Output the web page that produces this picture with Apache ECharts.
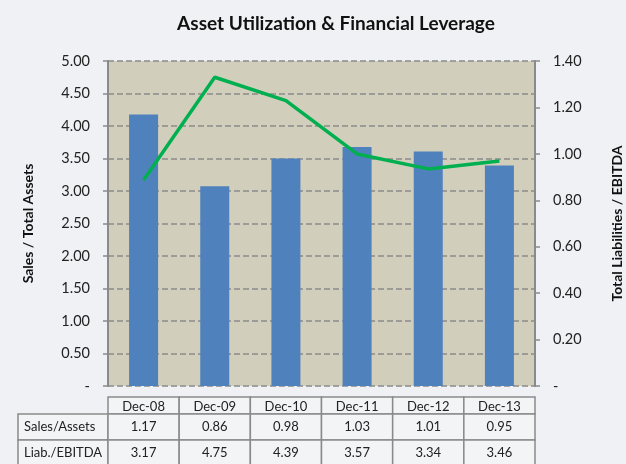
<!DOCTYPE html>
<html>
  <head>
    <meta charset="utf-8" />
    <title>Asset Utilization & Financial Leverage</title>
    <script src="https://cdn.jsdelivr.net/npm/echarts@6/dist/echarts.min.js"></script>
    <style>
      html, body { margin: 0; padding: 0; background: #eff1f4; }
    </style>
  </head>

  <body>
    <div id="main" style="width: 626px; height: 464px"></div>

    <script>
      var categories = ["Dec-08", "Dec-09", "Dec-10", "Dec-11", "Dec-12", "Dec-13"];
      var salesAssets = [1.17, 0.86, 0.98, 1.03, 1.01, 0.95];
      var liabEbitda = [3.17, 4.75, 4.39, 3.57, 3.34, 3.46];
      var rowLabels = ["Sales/Assets", "Liab./EBITDA"];

      var font = "Lato, 'Open Sans', sans-serif";
      var gridLeft = 108;
      var gridRight = 535;
      var colW = (gridRight - gridLeft) / categories.length;

      // table below the plot
      function buildTable() {
        var els = [];
        var cellStyle = { fill: "#f3f4f6", stroke: "#8a8a8a", lineWidth: 1.5 };
        var rows = [
          { y: 397, h: 17 },
          { y: 414, h: 26 },
          { y: 440, h: 26 },
        ];
        var textStyle = function (t, x, y, align) {
          return {
            type: "text",
            style: {
              text: t,
              x: x,
              y: y,
              align: align || "center",
              verticalAlign: "middle",
              font: "13px " + font,
              fill: "#222",
            },
          };
        };
        categories.forEach(function (c, i) {
          var x = gridLeft + i * colW;
          els.push({ type: "rect", shape: { x: x, y: rows[0].y, width: colW, height: rows[0].h }, style: cellStyle });
          els.push(textStyle(c, x + colW / 2, rows[0].y + rows[0].h / 2 + 1));
        });
        [salesAssets, liabEbitda].forEach(function (arr, r) {
          var row = rows[r + 1];
          els.push({ type: "rect", shape: { x: 18, y: row.y, width: gridLeft - 18, height: row.h }, style: cellStyle });
          els.push(textStyle(rowLabels[r], 24, row.y + row.h / 2, "left"));
          arr.forEach(function (v, i) {
            var x = gridLeft + i * colW;
            els.push({ type: "rect", shape: { x: x, y: row.y, width: colW, height: row.h }, style: cellStyle });
            els.push(textStyle(v.toFixed(2), x + colW / 2, row.y + row.h / 2));
          });
        });
        return els;
      }

      var option = {
        backgroundColor: "#eff1f4",
        animation: false,
        title: {
          text: "Asset Utilization & Financial Leverage",
          left: 331,
          textAlign: "center",
          top: 9,
          textStyle: { fontFamily: font, fontSize: 19, fontWeight: "bold", color: "#111" },
        },
        grid: {
          left: gridLeft,
          right: 626 - gridRight,
          top: 61,
          bottom: 464 - 386,
          outerBoundsMode: "none",
          containLabel: false,
          show: true,
          backgroundColor: "#d1cebb",
          borderWidth: 0,
        },
        xAxis: {
          type: "category",
          data: categories,
          axisLine: { show: false },
          axisTick: { show: false },
          axisLabel: { show: false },
        },
        yAxis: [
          {
            type: "value",
            position: "left",
            min: 0,
            max: 5,
            interval: 0.5,
            name: "Sales / Total Assets",
            nameLocation: "middle",
            nameRotate: 90,
            nameGap: 73,
            nameMoveOverlap: false,
            nameTextStyle: { fontFamily: font, fontSize: 14, fontWeight: "bold", color: "#111" },
            axisLine: { show: true, lineStyle: { color: "#8a8a8a", width: 2 } },
            axisTick: { show: true, length: 5, lineStyle: { color: "#8a8a8a", width: 1.5 } },
            axisLabel: {
              margin: 18,
              fontFamily: font,
              fontSize: 14.5,
              color: "#222",
              formatter: function (v) { return v === 0 ? "-" : v.toFixed(2); },
            },
            splitLine: { show: true, lineStyle: { color: "#8a8a8a", width: 1.5, type: [6, 3] } },
          },
          {
            type: "value",
            position: "right",
            min: 0,
            max: 1.4,
            interval: 0.2,
            name: "Total Liabilities / EBITDA",
            nameLocation: "middle",
            nameRotate: 90,
            nameGap: 75,
            nameMoveOverlap: false,
            nameTextStyle: { fontFamily: font, fontSize: 14, fontWeight: "bold", color: "#111" },
            axisLine: { show: true, lineStyle: { color: "#8a8a8a", width: 2 } },
            axisTick: { show: true, length: 5, lineStyle: { color: "#8a8a8a", width: 1.5 } },
            axisLabel: {
              margin: 18,
              fontFamily: font,
              fontSize: 14.5,
              color: "#222",
              formatter: function (v) { return v === 0 ? "-" : v.toFixed(2); },
            },
            splitLine: { show: false },
          },
        ],
        series: [
          {
            name: "Sales/Assets",
            type: "bar",
            yAxisIndex: 1,
            data: salesAssets,
            barWidth: 29,
            itemStyle: { color: "#4f81bd" },
            z: 2,
          },
          {
            name: "Liab./EBITDA",
            type: "line",
            yAxisIndex: 0,
            data: liabEbitda,
            showSymbol: false,
            symbol: "none",
            lineStyle: { color: "#00b050", width: 3.5 },
            z: 3,
          },
        ],
        graphic: buildTable(),
      };

      var myChart = echarts.init(document.getElementById("main"));
      myChart.setOption(option);
    </script>
  </body>
</html>
